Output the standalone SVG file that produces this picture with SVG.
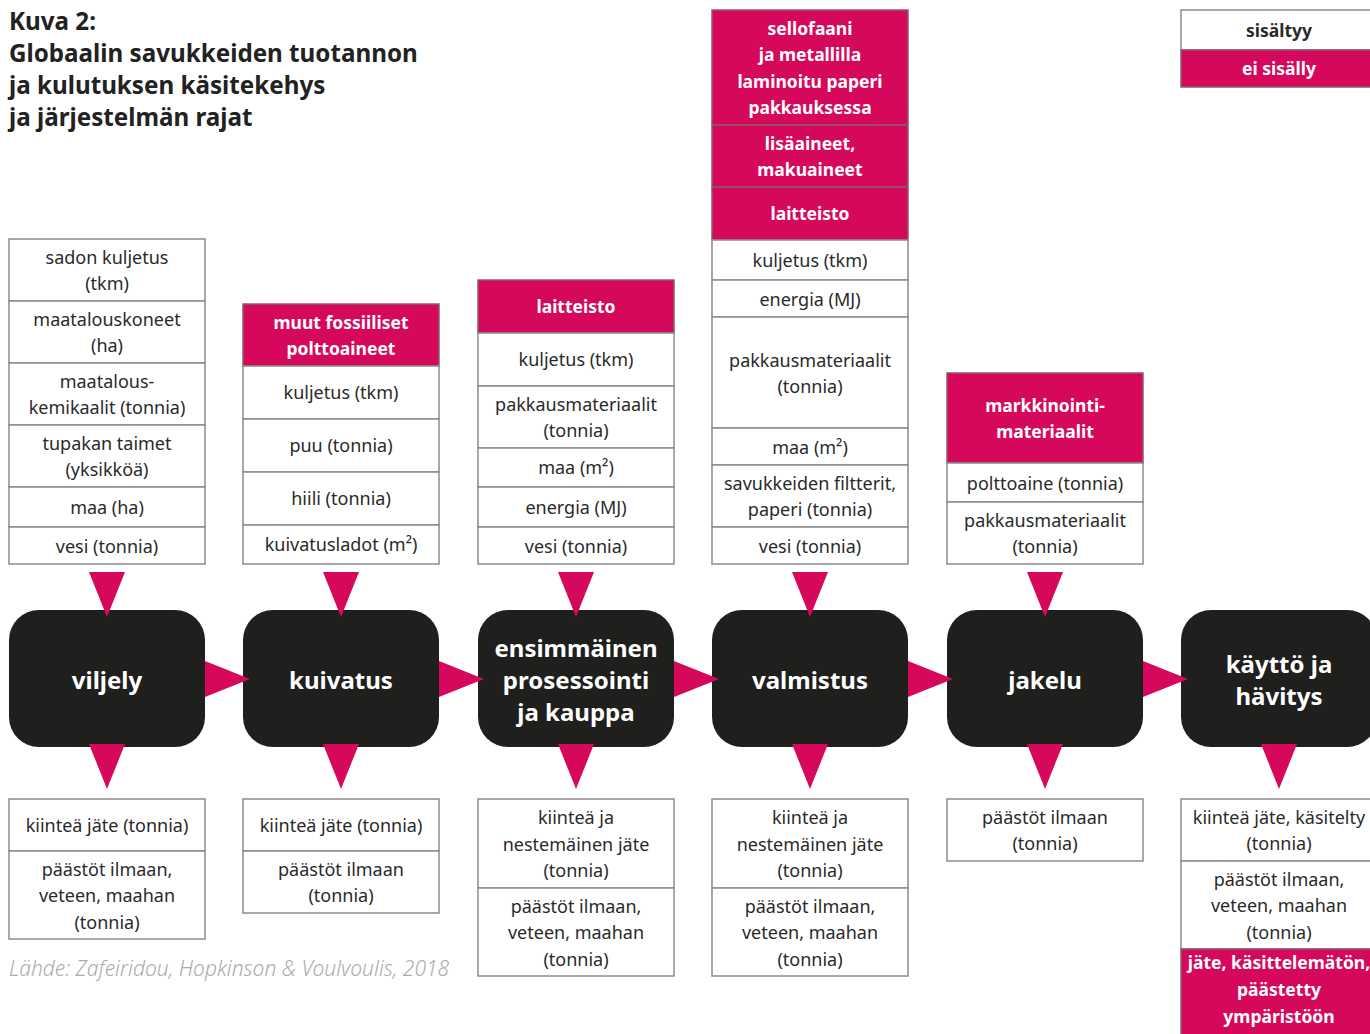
<svg xmlns="http://www.w3.org/2000/svg" width="1370" height="1034" viewBox="0 0 1370 1034">
  <style>
    .cell { fill: #ffffff; stroke: #8c8c8c; stroke-width: 1.5; }
    .hot { fill: #d6085c; stroke: #8c5a6c; stroke-width: 1.5; }
    .t { font-family: "Noto Sans", "Liberation Sans", sans-serif; font-size: 18px; fill: #2a2a2a; text-anchor: middle; }
    .tw { font-family: "Noto Sans", "Liberation Sans", sans-serif; font-size: 17.5px; font-weight: bold; fill: #ffffff; text-anchor: middle; }
    .tb { font-family: "Noto Sans", "Liberation Sans", sans-serif; font-size: 17.5px; font-weight: bold; fill: #2a2a2a; text-anchor: middle; }
    .node { fill: #1f1f1d; }
    .nt { font-family: "Noto Sans", "Liberation Sans", sans-serif; font-size: 24px; font-weight: bold; fill: #ffffff; text-anchor: middle; }
    .title { font-family: "Noto Sans", "Liberation Sans", sans-serif; font-size: 24.2px; font-weight: bold; fill: #222222; }
    .src { font-family: "Noto Sans", "Liberation Sans", sans-serif; font-size: 21px; font-style: italic; font-weight: 300; fill: #ababab; }
    .arrow { fill: #d6085c; }
  </style>

  <!-- heading -->
  <g id="title">
    <text class="title" x="9" y="30">Kuva 2:</text>
    <text class="title" x="9" y="62">Globaalin savukkeiden tuotannon</text>
    <text class="title" x="9" y="94">ja kulutuksen käsitekehys</text>
    <text class="title" x="9" y="126">ja järjestelmän rajat</text>
  </g>

  <!-- legend -->
  <g id="legend">
    <rect class="cell" x="1181" y="10" width="200" height="40"/>
    <text class="tb" x="1279" y="37">sisältyy</text>
    <rect class="hot" x="1181" y="50" width="200" height="37"/>
    <text class="tw" x="1279" y="75">ei sisälly</text>
  </g>

  <!-- inputs: viljely -->
  <g id="in-viljely">
    <rect class="cell" x="9" y="239" width="196" height="62"/>
    <text class="t" x="107" y="263.5">sadon kuljetus</text>
    <text class="t" x="107" y="290">(tkm)</text>
    <rect class="cell" x="9" y="301" width="196" height="62"/>
    <text class="t" x="107" y="325.5">maatalouskoneet</text>
    <text class="t" x="107" y="352">(ha)</text>
    <rect class="cell" x="9" y="363" width="196" height="62"/>
    <text class="t" x="107" y="387.5">maatalous-</text>
    <text class="t" x="107" y="414">kemikaalit (tonnia)</text>
    <rect class="cell" x="9" y="425" width="196" height="62"/>
    <text class="t" x="107" y="449.5">tupakan taimet</text>
    <text class="t" x="107" y="476">(yksikköä)</text>
    <rect class="cell" x="9" y="487" width="196" height="40"/>
    <text class="t" x="107" y="514">maa (ha)</text>
    <rect class="cell" x="9" y="527" width="196" height="37"/>
    <text class="t" x="107" y="552.5">vesi (tonnia)</text>
  </g>

  <!-- inputs: kuivatus -->
  <g id="in-kuivatus">
    <rect class="hot" x="243" y="304" width="196" height="62"/>
    <text class="tw" x="341" y="328.5">muut fossiiliset</text>
    <text class="tw" x="341" y="355">polttoaineet</text>
    <rect class="cell" x="243" y="366" width="196" height="53"/>
    <text class="t" x="341" y="399">kuljetus (tkm)</text>
    <rect class="cell" x="243" y="419" width="196" height="53"/>
    <text class="t" x="341" y="452">puu (tonnia)</text>
    <rect class="cell" x="243" y="472" width="196" height="53"/>
    <text class="t" x="341" y="505">hiili (tonnia)</text>
    <rect class="cell" x="243" y="525" width="196" height="39"/>
    <text class="t" x="341" y="551">kuivatusladot (m²)</text>
  </g>

  <!-- inputs: ensimmäinen prosessointi -->
  <g id="in-prosessointi">
    <rect class="hot" x="478" y="280" width="196" height="53"/>
    <text class="tw" x="576" y="313">laitteisto</text>
    <rect class="cell" x="478" y="333" width="196" height="53"/>
    <text class="t" x="576" y="366">kuljetus (tkm)</text>
    <rect class="cell" x="478" y="386" width="196" height="62"/>
    <text class="t" x="576" y="410.5">pakkausmateriaalit</text>
    <text class="t" x="576" y="437">(tonnia)</text>
    <rect class="cell" x="478" y="448" width="196" height="39"/>
    <text class="t" x="576" y="474">maa (m²)</text>
    <rect class="cell" x="478" y="487" width="196" height="40"/>
    <text class="t" x="576" y="514">energia (MJ)</text>
    <rect class="cell" x="478" y="527" width="196" height="37"/>
    <text class="t" x="576" y="552.5">vesi (tonnia)</text>
  </g>

  <!-- inputs: valmistus -->
  <g id="in-valmistus">
    <rect class="hot" x="712" y="10" width="196" height="115"/>
    <text class="tw" x="810" y="34.5">sellofaani</text>
    <text class="tw" x="810" y="61">ja metallilla</text>
    <text class="tw" x="810" y="87.5">laminoitu paperi</text>
    <text class="tw" x="810" y="114">pakkauksessa</text>
    <rect class="hot" x="712" y="125" width="196" height="62"/>
    <text class="tw" x="810" y="149.5">lisäaineet,</text>
    <text class="tw" x="810" y="176">makuaineet</text>
    <rect class="hot" x="712" y="187" width="196" height="53"/>
    <text class="tw" x="810" y="220">laitteisto</text>
    <rect class="cell" x="712" y="240" width="196" height="40"/>
    <text class="t" x="810" y="267">kuljetus (tkm)</text>
    <rect class="cell" x="712" y="280" width="196" height="37"/>
    <text class="t" x="810" y="305.5">energia (MJ)</text>
    <rect class="cell" x="712" y="317" width="196" height="111"/>
    <text class="t" x="810" y="366.5">pakkausmateriaalit</text>
    <text class="t" x="810" y="393">(tonnia)</text>
    <rect class="cell" x="712" y="428" width="196" height="37"/>
    <text class="t" x="810" y="453.5">maa (m²)</text>
    <rect class="cell" x="712" y="465" width="196" height="62"/>
    <text class="t" x="810" y="489.5">savukkeiden filtterit,</text>
    <text class="t" x="810" y="516">paperi (tonnia)</text>
    <rect class="cell" x="712" y="527" width="196" height="37"/>
    <text class="t" x="810" y="552.5">vesi (tonnia)</text>
  </g>

  <!-- inputs: jakelu -->
  <g id="in-jakelu">
    <rect class="hot" x="947" y="373" width="196" height="90"/>
    <text class="tw" x="1045" y="411.5">markkinointi-</text>
    <text class="tw" x="1045" y="438">materiaalit</text>
    <rect class="cell" x="947" y="463" width="196" height="39"/>
    <text class="t" x="1045" y="489.5">polttoaine (tonnia)</text>
    <rect class="cell" x="947" y="502" width="196" height="62"/>
    <text class="t" x="1045" y="526.5">pakkausmateriaalit</text>
    <text class="t" x="1045" y="553">(tonnia)</text>
  </g>

  <!-- process stages -->
  <g id="node-viljely">
    <rect class="node" x="9" y="610" width="196" height="137" rx="30"/>
    <text class="nt" x="107" y="689">viljely</text>
  </g>
  <g id="node-kuivatus">
    <rect class="node" x="243" y="610" width="196" height="137" rx="30"/>
    <text class="nt" x="341" y="689">kuivatus</text>
  </g>
  <g id="node-prosessointi">
    <rect class="node" x="478" y="610" width="196" height="137" rx="30"/>
    <text class="nt" x="576" y="657">ensimmäinen</text>
    <text class="nt" x="576" y="689">prosessointi</text>
    <text class="nt" x="576" y="721">ja kauppa</text>
  </g>
  <g id="node-valmistus">
    <rect class="node" x="712" y="610" width="196" height="137" rx="30"/>
    <text class="nt" x="810" y="689">valmistus</text>
  </g>
  <g id="node-jakelu">
    <rect class="node" x="947" y="610" width="196" height="137" rx="30"/>
    <text class="nt" x="1045" y="689">jakelu</text>
  </g>
  <g id="node-kaytto">
    <rect class="node" x="1181" y="610" width="196" height="137" rx="30"/>
    <text class="nt" x="1279" y="673">käyttö ja</text>
    <text class="nt" x="1279" y="705">hävitys</text>
  </g>

  <!-- outputs -->
  <g id="out-viljely">
    <rect class="cell" x="9" y="799" width="196" height="52"/>
    <text class="t" x="107" y="831.5">kiinteä jäte (tonnia)</text>
    <rect class="cell" x="9" y="851" width="196" height="88"/>
    <text class="t" x="107" y="875.5">päästöt ilmaan,</text>
    <text class="t" x="107" y="902">veteen, maahan</text>
    <text class="t" x="107" y="928.5">(tonnia)</text>
  </g>
  <g id="out-kuivatus">
    <rect class="cell" x="243" y="799" width="196" height="52"/>
    <text class="t" x="341" y="831.5">kiinteä jäte (tonnia)</text>
    <rect class="cell" x="243" y="851" width="196" height="62"/>
    <text class="t" x="341" y="875.5">päästöt ilmaan</text>
    <text class="t" x="341" y="902">(tonnia)</text>
  </g>
  <g id="out-prosessointi">
    <rect class="cell" x="478" y="799" width="196" height="89"/>
    <text class="t" x="576" y="824">kiinteä ja</text>
    <text class="t" x="576" y="850.5">nestemäinen jäte</text>
    <text class="t" x="576" y="877">(tonnia)</text>
    <rect class="cell" x="478" y="888" width="196" height="88"/>
    <text class="t" x="576" y="912.5">päästöt ilmaan,</text>
    <text class="t" x="576" y="939">veteen, maahan</text>
    <text class="t" x="576" y="965.5">(tonnia)</text>
  </g>
  <g id="out-valmistus">
    <rect class="cell" x="712" y="799" width="196" height="89"/>
    <text class="t" x="810" y="824">kiinteä ja</text>
    <text class="t" x="810" y="850.5">nestemäinen jäte</text>
    <text class="t" x="810" y="877">(tonnia)</text>
    <rect class="cell" x="712" y="888" width="196" height="88"/>
    <text class="t" x="810" y="912.5">päästöt ilmaan,</text>
    <text class="t" x="810" y="939">veteen, maahan</text>
    <text class="t" x="810" y="965.5">(tonnia)</text>
  </g>
  <g id="out-jakelu">
    <rect class="cell" x="947" y="799" width="196" height="62"/>
    <text class="t" x="1045" y="823.5">päästöt ilmaan</text>
    <text class="t" x="1045" y="850">(tonnia)</text>
  </g>
  <g id="out-kaytto">
    <rect class="cell" x="1181" y="799" width="200" height="62"/>
    <text class="t" x="1279" y="823.5">kiinteä jäte, käsitelty</text>
    <text class="t" x="1279" y="850">(tonnia)</text>
    <rect class="cell" x="1181" y="861" width="200" height="88"/>
    <text class="t" x="1279" y="885.5">päästöt ilmaan,</text>
    <text class="t" x="1279" y="912">veteen, maahan</text>
    <text class="t" x="1279" y="938.5">(tonnia)</text>
    <rect class="hot" x="1181" y="949" width="200" height="95"/>
    <text class="tw" x="1279" y="969">jäte, käsittelemätön,</text>
    <text class="tw" x="1279" y="996">päästetty</text>
    <text class="tw" x="1279" y="1023">ympäristöön</text>
  </g>

  <!-- flow connectors: inputs down into stages, outputs down, stage to stage -->
  <g id="connectors">
    <polygon class="arrow" points="89,572 125,572 107,617"/>
    <polygon class="arrow" points="323,572 359,572 341,617"/>
    <polygon class="arrow" points="558,572 594,572 576,617"/>
    <polygon class="arrow" points="792,572 828,572 810,617"/>
    <polygon class="arrow" points="1027,572 1063,572 1045,617"/>

    <polygon class="arrow" points="89,744 125,744 107,789"/>
    <polygon class="arrow" points="323,744 359,744 341,789"/>
    <polygon class="arrow" points="558,744 594,744 576,789"/>
    <polygon class="arrow" points="792,744 828,744 810,789"/>
    <polygon class="arrow" points="1027,744 1063,744 1045,789"/>
    <polygon class="arrow" points="1261,744 1297,744 1279,789"/>

    <polygon class="arrow" points="205,661 205,697 250,679"/>
    <polygon class="arrow" points="439,661 439,697 484,679"/>
    <polygon class="arrow" points="674,661 674,697 719,679"/>
    <polygon class="arrow" points="908,661 908,697 953,679"/>
    <polygon class="arrow" points="1143,661 1143,697 1188,679"/>
  </g>

  <!-- source line -->
  <text class="src" x="9" y="976">Lähde: Zafeiridou, Hopkinson &amp; Voulvoulis, 2018</text>
</svg>
